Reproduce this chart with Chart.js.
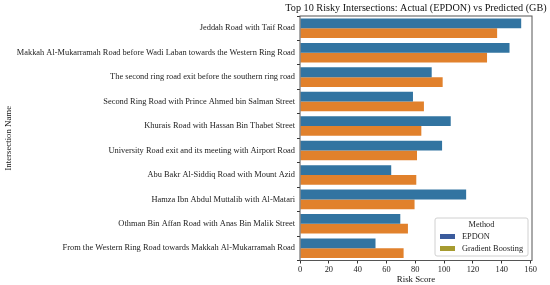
<!DOCTYPE html>
<html>
<head>
<meta charset="utf-8">
<script src="https://cdn.jsdelivr.net/npm/chart.js@4/dist/chart.umd.min.js"></script>
<style>
  html, body { margin: 0; padding: 0; background: #fff; }
  #wrap { width: 550px; height: 285px; }
</style>
</head>
<body>
<div id="wrap"><canvas id="riskChart" width="550" height="285"></canvas></div>
<script>
/* data */
const intersections = [
    'Jeddah Road with Taif Road',
    'Makkah Al-Mukarramah Road before Wadi Laban towards the Western Ring Road',
    'The second ring road exit before the southern ring road',
    'Second Ring Road with Prince Ahmed bin Salman Street',
    'Khurais Road with Hassan Bin Thabet Street',
    'University Road exit and its meeting with Airport Road',
    'Abu Bakr Al-Siddiq Road with Mount Azid',
    'Hamza Ibn Abdul Muttalib with Al-Matari',
    'Othman Bin Affan Road with Anas Bin Malik Street',
    'From the Western Ring Road towards Makkah Al-Mukarramah Road',
];
const epdonScores = [153.5, 145.4, 91.4, 78.4, 104.6, 98.6, 63.3, 115.3, 69.6, 52.4];
const gbScores    = [136.8, 129.8, 99.0, 86.0, 84.2, 81.2, 80.7, 79.5, 74.9, 71.9];
const methodNames = ['EPDON', 'Gradient Boosting'];
const xTicks = [0, 20, 40, 60, 80, 100, 120, 140, 160];

const FONT = '"Liberation Serif", "Times New Roman", serif';
Chart.defaults.font.family = FONT;
Chart.defaults.color = '#222';

/* title centred over the plot, box around it, legend inside */
const decor = {
    id: 'decor',
    afterDraw(chart) {
        const { ctx, chartArea: a } = chart;
        ctx.save();
        ctx.strokeStyle = '#555';
        ctx.lineWidth = 1;
        ctx.strokeRect(a.left, a.top, a.right - a.left, a.bottom - a.top);

        ctx.fillStyle = '#111';
        ctx.font = '10.2px ' + FONT;
        ctx.textAlign = 'center';
        ctx.textBaseline = 'middle';
        ctx.fillText('Top 10 Risky Intersections: Actual (EPDON) vs Predicted (GB)', (a.left + a.right) / 2, 8);

        // legend
        const lx = 435, ly = 218, lw = 93, lh = 38;
        ctx.fillStyle = 'rgba(255,255,255,0.85)';
        ctx.strokeStyle = '#d0d0d0';
        ctx.beginPath();
        ctx.roundRect(lx, ly, lw, lh, 2);
        ctx.fill();
        ctx.stroke();
        ctx.fillStyle = '#222';
        ctx.font = '8.3px ' + FONT;
        ctx.fillText('Method', lx + lw / 2, ly + 7);
        const sw = ['#3b5b9c', '#a69b30'];
        ctx.textAlign = 'left';
        methodNames.forEach((m, i) => {
            const y = ly + 18.5 + i * 12;
            ctx.fillStyle = sw[i];
            ctx.fillRect(lx + 5, y - 2.5, 15, 5);
            ctx.fillStyle = '#222';
            ctx.fillText(m, lx + 27, y);
        });
        ctx.restore();
    }
};

new Chart(document.getElementById('riskChart'), {
    type: 'bar',
    data: {
        labels: intersections,
        datasets: [
            { label: methodNames[0], data: epdonScores, backgroundColor: '#3274a1' },
            { label: methodNames[1], data: gbScores, backgroundColor: '#e1812c' },
        ],
    },
    options: {
        indexAxis: 'y',
        responsive: false,
        animation: false,
        categoryPercentage: 0.8,
        barPercentage: 1.0,
        layout: { padding: { top: 16, right: 18, left: 0, bottom: 0 } },
        plugins: { legend: { display: false }, title: { display: false }, tooltip: { enabled: false } },
        scales: {
            x: {
                min: 0,
                max: 161,
                afterBuildTicks: s => { s.ticks = xTicks.map(v => ({ value: v })); },
                afterFit: s => { s.height = 24.5; },
                grid: { drawOnChartArea: false, tickLength: 3, color: '#333' },
                border: { display: false },
                ticks: { padding: 1, font: { size: 8.4 }, color: '#222' },
                title: { display: true, text: 'Risk Score', font: { size: 8.8 }, color: '#111', padding: 0 },
            },
            y: {
                afterFit: s => { s.width = 300; },
                grid: { drawOnChartArea: false, tickLength: 3, color: '#333' },
                border: { display: false },
                ticks: { padding: 2, font: { size: 8.4 }, color: '#222', autoSkip: false },
                title: { display: true, text: 'Intersection Name', font: { size: 8.8 }, color: '#111', padding: { top: 3, bottom: 0 } },
            },
        },
    },
    plugins: [decor],
});
</script>
</body>
</html>
